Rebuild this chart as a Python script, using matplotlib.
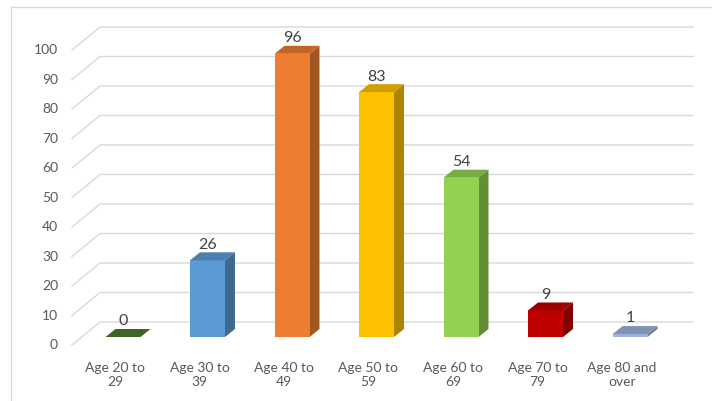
import numpy as np
import matplotlib
matplotlib.use("Agg")
import matplotlib.pyplot as plt
from matplotlib.patches import Polygon
from matplotlib.lines import Line2D
from matplotlib.colors import to_rgb

plt.rcParams["font.family"] = ["Lato", "DejaVu Sans"]

categories = ["Age 20 to\n29", "Age 30 to\n39", "Age 40 to\n49", "Age 50 to\n59",
              "Age 60 to\n69", "Age 70 to\n79", "Age 80 and\nover"]
values = [0, 26, 96, 83, 54, 9, 1]
colors = ["#4A7A2C", "#5B9BD5", "#ED7D31", "#FFC000", "#92D050", "#C00000", "#9DB3DC"]
y_ticks = list(range(0, 101, 10))

# pseudo-3d geometry (data units)
BAR_W = 0.414
BAR_Z = 2.71       # bars sit a bit behind the floor front edge
DEPTH_X = 0.118    # bar depth
DEPTH_Y = 2.71
WALL_X0, WALL_X1, WALL_END = -0.604, -0.272, 6.746
WALL_DY = 7.8


def shade(c, f):
    r, g, b = to_rgb(c)
    return (r * f, g * f, b * f)


fig = plt.figure(figsize=(7.12, 4.01), dpi=100)
ax = fig.add_axes([0, 0, 1, 1])
ax.set_xlim(-1.4556, 6.970)
ax.set_ylim(-18.98, 116.95)
ax.axis("off")

# gridlines with a perspective kink on the left wall
for t in y_ticks:
    ax.plot([WALL_X0, WALL_X1, WALL_END], [t, t + WALL_DY, t + WALL_DY],
            color="#D9D9D9", lw=1.0, zorder=1)
    ax.text(-0.769, t, str(t), ha="right", va="center", fontsize=10, color="#595959")

x = np.arange(len(values))
ax.bar(x, values, width=BAR_W, bottom=BAR_Z, color=colors, zorder=3, linewidth=0)

for xi, v, c in zip(x, values, colors):
    l, r = xi - BAR_W / 2, xi + BAR_W / 2
    top = BAR_Z + v
    side = Polygon([(r, BAR_Z), (r + DEPTH_X, BAR_Z + DEPTH_Y),
                    (r + DEPTH_X, top + DEPTH_Y), (r, top)],
                   closed=True, facecolor=shade(c, 0.68), edgecolor="none", zorder=2)
    cap = Polygon([(l, top), (r, top), (r + DEPTH_X, top + DEPTH_Y),
                   (l + DEPTH_X, top + DEPTH_Y)],
                  closed=True, facecolor=shade(c, 0.82), edgecolor="none", zorder=4)
    ax.add_patch(side)
    ax.add_patch(cap)
    ax.text(xi, top + 2.6 + 2.7, str(v), ha="center", va="center",
            fontsize=11.5, color="#404040")

for xi, lab in zip(x, categories):
    ax.text(xi - 0.095, -10.2, lab, ha="center", va="center", fontsize=10,
            color="#595959", linespacing=1.2)

# chart frame (left and top edges only visible)
fig.add_artist(Line2D([11 / 712, 11 / 712], [0, 1 - 7 / 401],
                      transform=fig.transFigure, color="#D9D9D9", lw=1))
fig.add_artist(Line2D([11 / 712, 1], [1 - 7 / 401, 1 - 7 / 401],
                      transform=fig.transFigure, color="#D9D9D9", lw=1))

fig.savefig("out.png", dpi=100)
